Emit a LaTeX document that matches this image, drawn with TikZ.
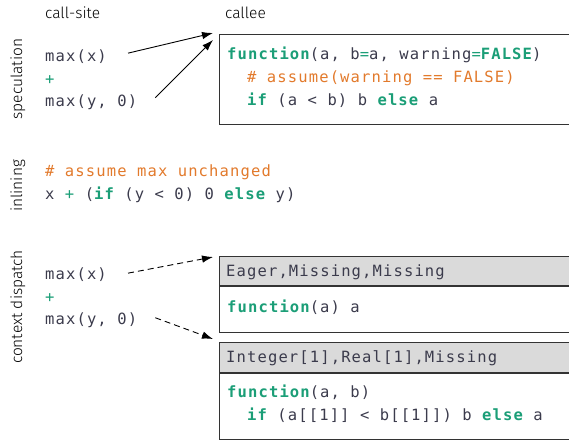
\documentclass[tikz,border=0pt]{standalone}
\usepackage{fontspec}
\setmainfont{Fira Sans}
\newfontfamily\labelfont{Fira Sans Light}
\newfontfamily\codefont{DejaVu Sans Mono}[LetterSpace=7.3]
\usetikzlibrary{arrows.meta, positioning}
\definecolor{codegreen}{HTML}{1B9E77}
\definecolor{codeorange}{HTML}{E27A2C}
\definecolor{codeink}{HTML}{3B3B4C}
\definecolor{headgray}{HTML}{DADADA}
\newcommand{\kwd}[1]{\textcolor{codegreen}{\bfseries #1}}
\newcommand{\opr}[1]{\textcolor{codegreen}{#1}}
\newcommand{\cmt}[1]{\textcolor{codeorange}{#1}}

\begin{document}
\begin{tikzpicture}[x=1pt, y=-1pt]
\tikzstyle{code}=[anchor=base west, inner sep=0pt, text=codeink, font=\codefont\fontsize{15.5}{18}\selectfont]
\tikzstyle{heading}=[anchor=base west, inner sep=0pt, font=\labelfont\fontsize{15.5}{18}\selectfont]
\tikzstyle{side}=[heading, anchor=center, rotate=90]
\tikzstyle{cbox}=[draw=black!80, line width=1.1pt, rectangle, inner sep=0pt, anchor=north west, minimum width=380pt]
\tikzstyle{arr}=[-{Latex[length=11pt, width=7.5pt]}, line width=0.9pt]
\clip (0,0) rectangle (569,442);

% column heads and row labels
\node[heading] (site) at (45,18) {call-site};
\node[heading] (callee) at (225,18) {callee};
\node[side] (spec) at (18,79) {speculation};
\node[side] (inl) at (18,186) {inlining};
\node[side] (ctx) at (18,307) {context dispatch};

% speculation
\node[code] (sx) at (45,61) {max(x)};
\node[code] (splus) at (45,84) {\opr{+}};
\node[code] (sy) at (45,106) {max(y, 0)};
\node[cbox, minimum height=90pt] (specbox) at (219,34) {};
\node[code] (s1) at (227,59) {\kwd{function}(a, b\opr{=}a, warning\opr{=}\kwd{FALSE})};
\node[code] (s2) at (247,82) {\cmt{\# assume(warning == FALSE)}};
\node[code] (s3) at (247,105) {\kwd{if} (a < b) b \kwd{else} a};
\coordinate (sin1) at (213,33);
\coordinate (sin2) at (213,40);
\draw[arr] ([xshift=21pt, yshift=3pt]sx.east) -- (sin1);
\draw[arr] ([xshift=18pt, yshift=4pt]sy.east) -- (sin2);

% inlining
\node[code] (i1) at (45,176) {\cmt{\# assume max unchanged}};
\node[code] (i2) at (45,199) {x \opr{+} (\kwd{if} (y < 0) 0 \kwd{else} y)};

% context dispatch
\node[code] (cx) at (45,279) {max(x)};
\node[code] (cplus) at (45,302) {\opr{+}};
\node[code] (cy) at (45,324) {max(y, 0)};
\node[cbox, fill=headgray, minimum height=29pt] (head1) at (219,256) {};
\node[cbox, minimum height=46pt] (body1) at (head1.south west) {};
\node[cbox, fill=headgray, minimum height=30pt] (head2) at (219,342) {};
\node[cbox, minimum height=66pt] (body2) at (head2.south west) {};
\node[code] (h1) at (226,276) {Eager,Missing,Missing};
\node[code] (b1) at (227,312) {\kwd{function}(a) a};
\node[code] (h2) at (226,362) {Integer[1],Real[1],Missing};
\node[code] (b2a) at (227,397) {\kwd{function}(a, b)};
\node[code] (b2b) at (247,420) {\kwd{if} (a[[1]] < b[[1]]) b \kwd{else} a};
\coordinate (cin1) at (213,257);
\coordinate (cin2) at (213,339);
\draw[arr, dash pattern=on 6pt off 4pt] ([xshift=21pt, yshift=1pt]cx.east) -- (cin1);
\draw[arr, dash pattern=on 6pt off 4pt] ([xshift=18pt, yshift=2pt]cy.east) -- (cin2);
\end{tikzpicture}
\end{document}
